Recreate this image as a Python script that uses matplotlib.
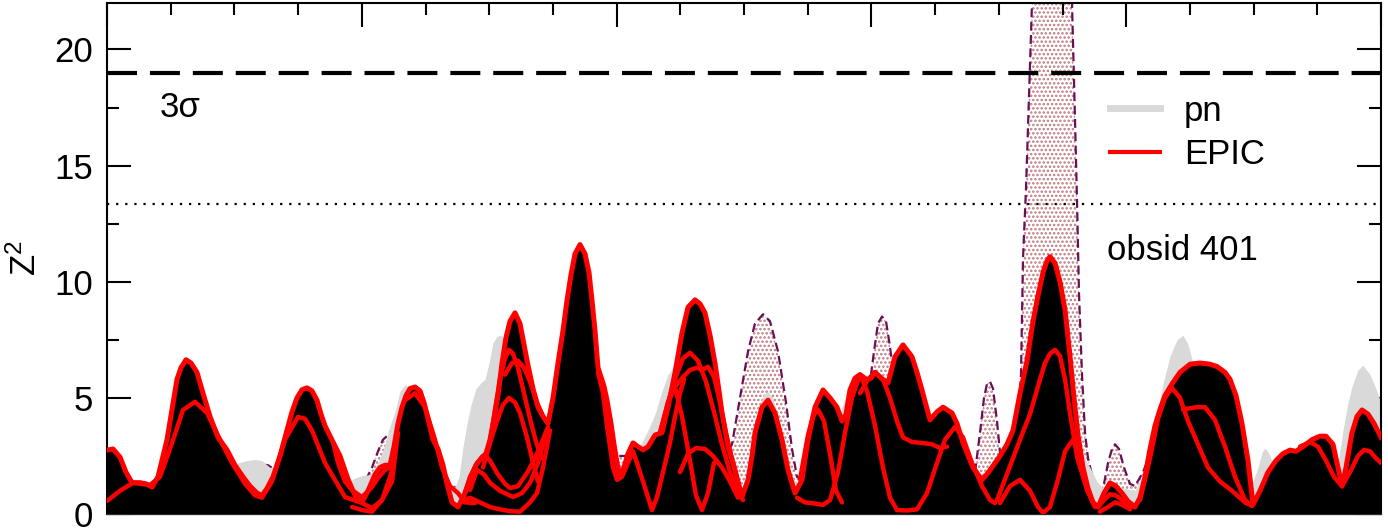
import numpy as np
import matplotlib
matplotlib.use("Agg")
import matplotlib.pyplot as plt
from matplotlib.lines import Line2D

plt.rcParams['font.family'] = ['Liberation Sans', 'DejaVu Sans']
plt.rcParams['mathtext.default'] = 'regular'
plt.rcParams['hatch.linewidth'] = 1.2
plt.rcParams['hatch.color'] = '#bd7a80'

# trial frequency bin (axis runs 0..1274, no labels on the original)
# upper EPIC curve (filled black underneath)
epic_x = [0, 6, 13, 19, 25, 33, 39, 45, 51, 60, 65, 70, 74, 79, 84, 90, 96, 103, 111, 120,
          128, 136, 143, 150, 155, 160, 166, 173, 180, 185, 190, 195, 200, 205, 210, 214, 218, 226,
          233, 241, 249, 255, 261, 268, 273, 278, 283, 287, 291, 295, 299, 303, 308, 313, 317, 321,
          326, 331, 336, 340, 345, 351, 357, 363, 369, 375, 379, 383, 387, 391, 395, 399, 403, 408,
          413, 417, 421, 426, 431, 436, 441, 446, 451, 456, 460, 464, 468, 473, 478, 482, 485, 488,
          491, 494, 497, 500, 504, 507, 510, 513, 517, 521, 526, 531, 536, 541, 548, 555, 561, 568,
          575, 581, 588, 593, 598, 603, 608, 612, 615, 621, 628, 635, 641, 645, 648, 655, 661, 668,
          675, 681, 688, 695, 701, 708, 716, 723, 730, 735, 739, 743, 748, 753, 760, 764, 768, 776,
          781, 788, 796, 805, 810, 815, 823, 830, 836, 845, 850, 856, 866, 875, 881, 893, 900, 906,
          913, 920, 926, 931, 936, 940, 943, 948, 953, 958, 963, 967, 971, 976, 981, 986, 991, 997,
          1003, 1009, 1015, 1021, 1028, 1033, 1038, 1043, 1048, 1053, 1058, 1065, 1073, 1083, 1093,
          1103, 1110, 1118, 1123, 1129, 1135, 1141, 1146, 1153, 1161, 1169, 1176, 1183, 1189, 1196,
          1205, 1213, 1219, 1226, 1231, 1235, 1239, 1245, 1250, 1255, 1261, 1267, 1274]
epic_z = [2.75, 2.8, 2.45, 1.8, 1.35, 1.35, 1.3, 1.16, 1.6, 3.2, 4.5, 5.8, 6.3, 6.64, 6.5, 6.1,
          5.2, 4.2, 3.3, 2.76, 2.1, 1.6, 1.2, 0.9, 0.8, 1.1, 1.6, 2.5, 3.6, 4.4, 5.0, 5.35, 5.43,
          5.3, 4.9, 4.3, 3.8, 3.1, 2.5, 1.5, 0.7, 0.5, 1.0, 1.7, 2.0, 2.1, 2.1, 2.9, 3.9, 4.6, 5.1,
          5.4, 5.47, 5.3, 4.8, 4.1, 3.2, 2.8, 2.1, 1.3, 0.5, 0.3, 0.8, 1.5, 2.1, 2.45, 2.6, 3.2,
          4.1, 5.1, 6.5, 7.6, 8.3, 8.66, 8.2, 7.3, 6.4, 5.4, 4.6, 4.2, 3.9, 5.0, 6.5, 7.9, 9.2,
          10.3, 11.2, 11.6, 11.2, 10.4, 9.2, 7.9, 6.3, 5.9, 5.5, 4.9, 3.9, 3.0, 2.2, 1.6, 2.0,
          2.6, 3.06, 2.9, 2.76, 2.9, 3.4, 3.5, 4.6, 6.08, 7.8, 8.9, 9.22, 9.05, 8.66, 7.7, 6.5,
          5.3, 4.35, 2.9, 1.9, 0.73, 1.47, 2.5, 3.5, 4.6, 4.9, 4.35, 3.2, 1.9, 0.9, 1.47, 3.2,
          4.6, 5.34, 5.0, 4.6, 4.0, 4.3, 5.34, 5.85, 6.0, 5.78, 5.85, 6.1, 5.78, 5.65, 6.77, 7.28,
          6.77, 6.1, 5.34, 4.05, 4.4, 4.6, 4.35, 3.9, 3.06, 2.0, 1.47, 1.77, 2.5, 3.0, 3.6, 5.2,
          6.6, 8.3, 9.4, 10.4, 10.9, 11.08, 10.8, 10.0, 8.8, 6.8, 5.0, 3.4, 2.0, 1.1, 0.5, 0.3,
          0.9, 1.34, 1.2, 0.9, 0.55, 0.3, 0.7, 1.6, 2.8, 3.8, 4.5, 5.1, 5.6, 6.1, 6.45, 6.5, 6.45,
          6.35, 6.1, 5.8, 5.1, 3.9, 2.3, 0.4, 1.0, 1.8, 2.3, 2.6, 2.75, 2.7, 2.9, 3.2, 3.35, 3.35,
          3.0, 2.0, 1.2, 2.0, 3.5, 4.2, 4.48, 4.3, 3.9, 3.3]

# pn curve (light grey)
pn_x = [0, 23, 53, 79, 98, 113, 123, 131, 140, 148, 155, 163, 171, 183, 198, 213, 228, 238,
        248, 255, 263, 271, 278, 283, 288, 293, 298, 303, 311, 321, 333, 341, 348, 352, 356, 360,
        364, 369, 374, 378, 382, 386, 390, 394, 399, 405, 413, 428, 453, 473, 491, 505, 518, 528,
        535, 541, 548, 555, 561, 566, 573, 588, 605, 623, 635, 645, 653, 657, 661, 666, 673, 683,
        693, 708, 723, 733, 738, 742, 746, 751, 758, 768, 783, 796, 818, 843, 863, 878, 893, 913,
        943, 961, 969, 974, 978, 983, 990, 998, 1008, 1018, 1028, 1038, 1045, 1051, 1056, 1063,
        1070, 1076, 1081, 1086, 1093, 1113, 1128, 1138, 1145, 1151, 1155, 1158, 1162, 1168, 1178,
        1188, 1198, 1208, 1218, 1226, 1231, 1236, 1241, 1245, 1251, 1256, 1263, 1268, 1274]
pn_z = [1.0, 0.9, 1.5, 5.0, 4.0, 2.8, 2.1, 2.2, 2.3, 2.35, 2.3, 2.0, 2.1, 3.5, 5.0, 3.8, 2.4,
        1.3, 1.55, 1.65, 1.7, 2.2, 3.0, 3.8, 4.4, 5.3, 5.56, 5.45, 4.8, 3.4, 1.9, 1.4, 1.16, 1.6,
        2.9, 3.9, 4.7, 5.4, 5.65, 5.8, 6.5, 7.37, 7.65, 7.7, 7.45, 6.8, 5.5, 3.5, 4.5, 9.0, 5.5,
        2.5, 1.5, 2.6, 3.1, 3.6, 4.3, 5.3, 6.0, 6.3, 6.5, 7.0, 5.0, 2.5, 0.9, 2.8, 4.7, 5.15,
        5.26, 5.0, 3.8, 1.7, 1.2, 3.5, 4.2, 4.3, 5.0, 5.6, 5.9, 5.95, 5.5, 5.0, 4.0, 5.0, 3.5,
        3.0, 1.8, 1.3, 2.3, 4.5, 8.5, 6.0, 3.8, 2.8, 2.4, 2.0, 1.4, 1.0, 1.0, 1.1, 1.0, 1.9, 3.2,
        4.5, 5.6, 6.8, 7.5, 7.7, 7.3, 6.5, 6.0, 5.5, 4.5, 2.5, 1.3, 2.0, 2.65, 2.85, 2.6, 2.0,
        2.3, 2.6, 3.0, 3.45, 3.3, 2.6, 2.2, 3.6, 4.8, 5.5, 6.2, 6.4, 6.0, 5.5, 4.8]

# third curve, dashed outline with stipple
mos_x = [0, 43, 79, 103, 118, 128, 133, 150, 161, 168, 200, 223, 243, 258, 265, 271, 276, 281,
         288, 303, 323, 343, 373, 408, 423, 430, 438, 473, 503, 533, 588, 618, 625, 633, 641, 648,
         656, 663, 671, 679, 685, 690, 698, 716, 753, 761, 767, 771, 775, 779, 783, 788, 796, 823,
         853, 868, 873, 877, 880, 883, 886, 890, 894, 903, 911, 914, 916, 919, 922, 925, 930, 943,
         955, 962, 965, 968, 970, 972, 975, 978, 981, 986, 992, 997, 1001, 1005, 1008, 1012, 1017,
         1023, 1028, 1036, 1045, 1090, 1146, 1200, 1274]
mos_z = [0.5, 0.8, 4.0, 3.5, 2.2, 2.0, 2.1, 2.15, 2.1, 1.9, 4.5, 2.5, 1.2, 1.4, 2.0, 2.7, 3.2,
         3.4, 3.8, 4.5, 2.5, 1.0, 2.0, 6.0, 5.5, 4.8, 3.6, 8.0, 2.5, 2.5, 6.0, 2.5, 3.0, 5.0, 7.0,
         8.2, 8.6, 8.3, 7.0, 4.8, 2.8, 1.6, 1.5, 3.5, 4.0, 5.0, 7.0, 8.2, 8.5, 8.3, 7.2, 5.5, 5.0,
         3.0, 2.0, 1.8, 3.5, 5.0, 5.6, 5.7, 5.4, 4.0, 2.2, 2.5, 4.0, 6.0, 11.0, 14.0, 18.0, 22.0,
         27.0, 32.0, 28.0, 24.0, 22.0, 17.0, 13.5, 9.5, 6.0, 3.5, 2.4, 1.5, 0.9, 1.3, 2.2, 2.8,
         3.0, 2.8, 2.0, 1.3, 1.2, 1.8, 2.8, 4.0, 0.3, 2.0, 2.0]

# other EPIC curves, only the stretches that show
epic_parts = [
    ([0, 13, 26, 43, 53, 63, 76, 88, 100, 113, 125, 138, 148, 155, 165, 178, 191, 198, 205, 218,
      238, 255, 265, 275, 285, 291],
     [0.56, 1.0, 1.34, 1.25, 1.6, 2.8, 4.48, 4.83, 4.35, 3.2, 2.2, 1.3, 0.8, 0.7, 1.4, 3.2, 4.18,
      4.1, 3.6, 2.2, 0.73, 0.47, 0.25, 0.6, 1.4, 3.5]),
    ([226, 231, 238, 245, 255, 265, 271, 278, 283],
     [3.1, 2.2, 1.4, 1.03, 0.73, 1.16, 1.55, 1.9, 2.0]),
    ([245, 255, 265, 275, 281, 286], [0.3, 0.17, 0.1, 0.6, 1.34, 2.0]),
    ([298, 308, 318, 328, 335, 343, 351, 358, 368],
     [4.9, 5.2, 4.6, 3.2, 2.0, 1.2, 0.9, 0.5, 0.47]),
    ([358, 363, 370, 378, 383, 390, 398, 403, 411, 420, 428, 433, 441],
     [0.9, 1.6, 2.2, 2.55, 2.3, 1.77, 1.3, 1.12, 1.2, 1.77, 2.4, 2.9, 3.75]),
    ([363, 370, 377, 383, 393, 406, 415, 423, 431, 440],
     [1.03, 1.9, 1.7, 1.34, 1.0, 0.73, 0.9, 1.34, 2.2, 3.6]),
    ([353, 363, 373, 383, 393, 403, 413, 423, 430, 436, 443],
     [0.5, 0.7, 0.5, 0.3, 0.2, 0.12, 0.1, 0.5, 0.9, 2.0, 3.6]),
    ([377, 383, 388, 393, 398, 402, 406, 411, 417, 423, 429, 435],
     [2.3, 3.1, 4.5, 5.8, 6.7, 7.07, 6.9, 6.3, 5.2, 4.1, 3.1, 2.4]),
    ([398, 405, 411, 417, 423, 430, 436, 441], [6.0, 6.5, 6.6, 6.3, 5.7, 4.8, 4.2, 3.9]),
    ([376, 383, 390, 396, 402, 408, 413, 420, 426, 431],
     [2.0, 3.06, 4.0, 4.7, 5.0, 4.8, 4.35, 3.3, 2.2, 1.4]),
    ([491, 496, 500, 503, 506, 510, 515, 526, 530, 536, 541, 545, 550, 556, 563, 568, 573, 577],
     [6.1, 5.2, 3.8, 2.9, 2.0, 1.47, 1.6, 2.7, 2.2, 1.4, 0.73, 0.17, 0.73, 1.8, 3.06, 4.2, 5.2,
      5.8]),
    ([553, 561, 568, 576, 583, 591, 599, 607, 615, 623, 631, 636],
     [3.5, 4.8, 5.8, 6.7, 6.94, 6.6, 5.7, 4.4, 3.0, 1.8, 0.9, 0.6]),
    ([568, 576, 583, 590, 595, 601, 607, 613, 619, 627, 635],
     [5.47, 5.9, 6.2, 6.3, 6.2, 6.34, 5.9, 4.8, 3.5, 2.0, 0.7]),
    ([553, 561, 568, 575, 583, 589, 595, 601, 607],
     [3.5, 4.8, 5.47, 4.2, 2.3, 0.8, 0.17, 0.9, 2.2]),
    ([573, 581, 589, 598, 606, 615, 623, 631], [1.8, 2.6, 2.84, 2.8, 2.5, 2.0, 1.4, 0.7]),
    ([693, 701, 706, 711, 717, 723, 729, 735], [1.5, 3.4, 4.2, 4.5, 4.0, 2.6, 1.0, 0.5]),
    ([690, 698, 708, 716, 723, 731, 738, 745, 753, 760, 768, 776, 783, 790, 800, 810, 820, 830,
      838, 848, 856, 865, 875, 883, 888],
     [0.7, 0.5, 0.45, 0.39, 0.6, 1.8, 3.5, 5.0, 6.0, 5.3, 3.8, 2.0, 0.7, 0.17, 0.15, 0.2, 0.9,
      2.2, 3.2, 3.75, 3.3, 2.2, 1.2, 0.6, 0.47]),
    ([753, 761, 768, 776, 783, 790, 796, 805, 815, 825, 833, 840],
     [5.2, 5.8, 6.1, 5.8, 5.0, 4.0, 3.3, 3.1, 3.06, 3.0, 2.84, 2.9]),
    ([890, 898, 906, 913, 923, 931, 938, 943, 948, 953, 958, 963, 970, 980, 988],
     [0.6, 1.5, 2.4, 3.2, 4.3, 5.5, 6.5, 6.9, 7.07, 6.8, 5.8, 4.35, 2.46, 1.03, 0.3]),
    ([893, 903, 913, 923, 931, 936, 943, 951, 958, 966, 973, 980, 988],
     [0.47, 1.2, 1.47, 1.0, 0.3, 0.05, 0.3, 1.5, 2.7, 3.2, 2.5, 1.1, 0.3]),
    ([991, 997, 1003, 1009, 1015, 1023, 1028], [0.3, 0.6, 0.85, 0.8, 0.6, 0.35, 0.3]),
    ([993, 1001, 1008, 1015, 1023], [0.1, 0.3, 0.5, 0.4, 0.2]),
    ([1033, 1043, 1051, 1058, 1065, 1073, 1081, 1088, 1101, 1113, 1125, 1138, 1145],
     [0.6, 2.4, 4.1, 5.0, 5.43, 5.0, 4.0, 3.3, 2.0, 1.4, 1.0, 0.5, 0.35]),
    ([1076, 1083, 1090, 1098, 1108, 1118, 1128, 1138, 1145],
     [4.5, 4.55, 4.6, 4.6, 4.05, 2.9, 1.6, 0.6, 0.35]),
    ([1193, 1203, 1211, 1219, 1227, 1235, 1243, 1251, 1257, 1263, 1269, 1274],
     [2.9, 3.1, 2.9, 2.3, 1.6, 1.2, 1.8, 2.5, 2.76, 2.7, 2.4, 2.2]),
]

sigma3 = 19.0
level_dot = 13.35

fig = plt.figure(figsize=(13.88, 5.30), dpi=100)
ax = fig.add_axes([107 / 1388, 16 / 530, 1274 / 1388, 511 / 530])

ax.fill_between(mos_x, 0, mos_z, facecolor='white', edgecolor='#bd7a80', hatch='....',
                linewidth=0, zorder=1)
ax.plot(mos_x, mos_z, color='#6b0f55', lw=1.6, dashes=(4, 2), zorder=1.5)
ax.fill_between(pn_x, 0, pn_z, color='#d9d9d9', linewidth=0, zorder=2)
ax.fill_between(epic_x, 0, epic_z, color='black', linewidth=0, zorder=3)
for px, pz in epic_parts:
    ax.plot(px, pz, color='red', lw=3.2, solid_joinstyle='round', solid_capstyle='round',
            zorder=4)
ax.plot(epic_x, epic_z, color='red', lw=3.6, solid_joinstyle='round', zorder=4.5)

ax.axhline(sigma3, color='black', lw=3, dashes=(7.2, 3.1), zorder=6)
ax.axhline(level_dot, color='black', lw=1.6, dashes=(1, 3.1), zorder=6)

ax.text(53, 17.1, '3σ', fontsize=25, ha='left', va='baseline')
ax.text(1000, 10.95, 'obsid 401', fontsize=25, ha='left', va='baseline')

handles = [Line2D([], [], color='#d9d9d9', lw=5), Line2D([], [], color='red', lw=3)]
ax.legend(handles, ['pn', 'EPIC'], loc='center left', bbox_to_anchor=(0.787, 0.746),
          frameon=False, fontsize=25, handlelength=1.44, handletextpad=0.7,
          labelspacing=0.3, borderpad=0, borderaxespad=0)

ax.set_xlim(0, 1274)
ax.set_ylim(0, 22)
ax.set_xticks(np.linspace(0, 1274, 6))
ax.set_xticks(np.linspace(0, 1274, 21), minor=True)
ax.set_yticks([0, 5, 10, 15, 20])
ax.set_yticks(np.arange(0, 22, 2.5), minor=True)
ax.tick_params(axis='x', which='both', direction='in', top=True, bottom=False,
               labelbottom=False, width=1.5)
ax.tick_params(axis='y', which='both', direction='in', left=True, right=True, width=1.5,
               labelsize=25, pad=10)
ax.tick_params(which='major', length=17)
ax.tick_params(which='minor', length=8.5)
ax.set_ylabel('Z$^2$', fontsize=25, labelpad=8)

for s in ['left', 'right', 'top']:
    ax.spines[s].set_linewidth(1.5)
ax.spines['bottom'].set_linewidth(1.0)
ax.spines['bottom'].set_color('#555555')

fig.savefig('out.png', dpi=100)
